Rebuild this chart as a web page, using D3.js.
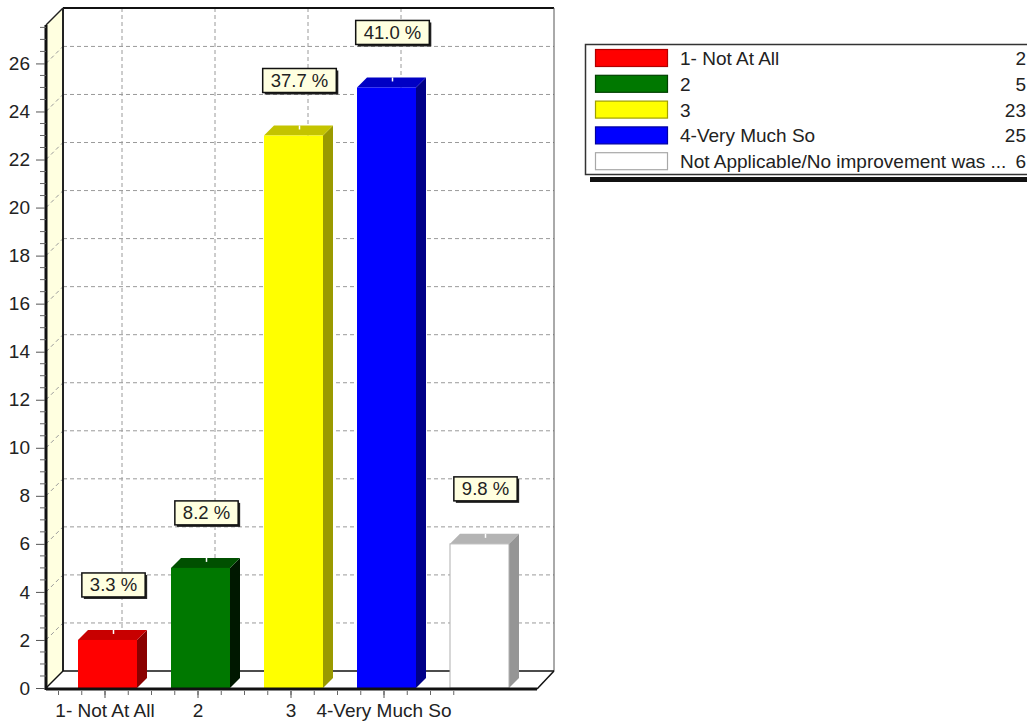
<!DOCTYPE html>
<html>
<head>
<meta charset="utf-8">
<script src="https://cdn.jsdelivr.net/npm/d3@7"></script>
<style>
  html, body { margin: 0; padding: 0; background: #fff; }
  svg { display: block; }
  text { font-family: "Liberation Sans", Arial, sans-serif; fill: #222; }
</style>
</head>
<body>
<svg id="chart" width="1027" height="724"></svg>
<script>
// Survey responses
const categories = ["1- Not At All", "2", "3", "4-Very Much So", "Not Applicable/No improvement was ..."];
const counts = [2, 5, 23, 25, 6];
// Category labels printed under the axis (the long last one is suppressed)
const axisLabels = ["1- Not At All", "2", "3", "4-Very Much So"];
const yTickValues = [0, 2, 4, 6, 8, 10, 12, 14, 16, 18, 20, 22, 24, 26];

const frontColors = ["#ff0000", "#007800", "#ffff00", "#0000ff", "#ffffff"];
const topColors   = ["#c80000", "#005000", "#c4c400", "#0000c4", "#b4b4b4"];
const sideColors  = ["#8a0000", "#001800", "#9a9a00", "#000088", "#959595"];
const edgeColors  = ["#b00000", "#004000", "#a0a000", "#0000a0", "#a8a8a8"];

const total = d3.sum(counts);
const svg = d3.select("#chart");
const FS = 19;

// Plot geometry
const D = 17;      // wall depth offset
const d = 10;      // bar depth offset
const y = d3.scaleLinear().domain([0, 27.6]).range([688, 25]);
const x = d3.scaleBand().domain(categories).range([58.5, 523.5]);
const bw = x.bandwidth();
const xLeft = 46, xRight = 537;
const y0 = y(0), yTop = y(27.6);
const center = c => x(c) + bw / 2;

// Left wall (cream) and floor
svg.append("polygon")
  .attr("points", [[xLeft, yTop], [xLeft + D, yTop - D], [xLeft + D, y0 - D], [xLeft, y0]].join(" "))
  .attr("fill", "#ffffe0");
svg.append("polygon")
  .attr("points", [[xLeft, y0], [xLeft + D, y0 - D], [xRight + D, y0 - D], [xRight, y0]].join(" "))
  .attr("fill", "#ffffff");

// Grid lines
const grid = svg.append("g").attr("stroke", "#9a9a9a").attr("stroke-width", 1)
  .attr("stroke-dasharray", "4,3").attr("fill", "none");
yTickValues.filter(v => v > 0).forEach(v => {
  grid.append("line").attr("x1", xLeft + D).attr("x2", xRight + D)
    .attr("y1", y(v) - D).attr("y2", y(v) - D);
  grid.append("line").attr("x1", xLeft).attr("x2", xLeft + D)
    .attr("y1", y(v)).attr("y2", y(v) - D);
});
axisLabels.forEach(c => {
  grid.append("line").attr("x1", center(c) + D).attr("x2", center(c) + D)
    .attr("y1", yTop - D).attr("y2", y0 - D);
});

// Frame lines
const frame = svg.append("g").attr("fill", "none");
frame.append("line").attr("x1", xLeft + D).attr("x2", xRight + D)
  .attr("y1", yTop - D).attr("y2", yTop - D).attr("stroke", "#111").attr("stroke-width", 2);
frame.append("line").attr("x1", xRight + D).attr("x2", xRight + D)
  .attr("y1", yTop - D).attr("y2", y0 - D).attr("stroke", "#555").attr("stroke-width", 1);
frame.append("line").attr("x1", xLeft).attr("x2", xLeft + D)
  .attr("y1", yTop).attr("y2", yTop - D).attr("stroke", "#222").attr("stroke-width", 1.5);
frame.append("line").attr("x1", xLeft + D).attr("x2", xLeft + D)
  .attr("y1", yTop - D).attr("y2", y0 - D).attr("stroke", "#222").attr("stroke-width", 2);
frame.append("line").attr("x1", xLeft + D).attr("x2", xRight + D)
  .attr("y1", y0 - D).attr("y2", y0 - D).attr("stroke", "#111").attr("stroke-width", 1.5);
frame.append("line").attr("x1", xLeft).attr("x2", xLeft + D)
  .attr("y1", y0).attr("y2", y0 - D).attr("stroke", "#111").attr("stroke-width", 1.5);
frame.append("line").attr("x1", xRight).attr("x2", xRight + D)
  .attr("y1", y0 + 1).attr("y2", y0 - D).attr("stroke", "#111").attr("stroke-width", 1.5);

// Bars (front, top, side faces)
const bars = svg.append("g");
categories.forEach((c, i) => {
  const v = counts[i];
  const x0 = center(c) - 27, w = 59, yt = y(v);
  const g = bars.append("g");
  g.append("polygon")
    .attr("points", [[x0 + w, yt], [x0 + w + d, yt - d], [x0 + w + d, y0 - d], [x0 + w, y0]].join(" "))
    .attr("fill", sideColors[i]);
  g.append("polygon")
    .attr("points", [[x0, yt], [x0 + d, yt - d], [x0 + w + d, yt - d], [x0 + w, yt]].join(" "))
    .attr("fill", topColors[i]);
  g.append("rect").attr("x", x0).attr("y", yt).attr("width", w).attr("height", y0 - yt)
    .attr("fill", frontColors[i])
    .attr("stroke", i === 4 ? "#b0b0b0" : "none").attr("stroke-width", 1);
  g.append("line")
    .attr("x1", x0 + w / 2 + d / 2 + 1).attr("x2", x0 + w / 2 + d / 2 + 1)
    .attr("y1", yt - d).attr("y2", yt - d + 4)
    .attr("stroke", "#fff").attr("stroke-width", 1.5);
});

// Axes: thick front edges
svg.append("line").attr("x1", xLeft).attr("x2", xLeft).attr("y1", yTop).attr("y2", y0 + 2)
  .attr("stroke", "#111").attr("stroke-width", 3);
svg.append("line").attr("x1", xLeft).attr("x2", xRight).attr("y1", y0 + 1).attr("y2", y0 + 1)
  .attr("stroke", "#111").attr("stroke-width", 3);

// Y axis ticks and labels
const yAxis = d3.axisLeft(y).tickValues(yTickValues).tickSize(9).tickPadding(6).tickFormat(d3.format("d"));
const yg = svg.append("g").attr("transform", `translate(${xLeft - 1},0)`).call(yAxis);
yg.select(".domain").remove();
yg.selectAll(".tick line").attr("stroke", "#555");
yg.selectAll(".tick text").attr("font-size", FS).attr("fill", "#222")
  .attr("font-family", "'Liberation Sans', Arial, sans-serif");
const minorY = d3.range(0, 27.6, 0.5).filter(v => v % 2 !== 0);
svg.append("g").selectAll("line").data(minorY).join("line")
  .attr("x1", xLeft - 6).attr("x2", xLeft).attr("y1", v => y(v)).attr("y2", v => y(v))
  .attr("stroke", "#666");

// X axis ticks and labels
const quarterTicks = d3.range(0, 18).map(k => x.range()[0] + k * bw / 4);
svg.append("g").selectAll("line").data(quarterTicks).join("line")
  .attr("x1", v => v).attr("x2", v => v).attr("y1", y0 + 3).attr("y2", y0 + 7)
  .attr("stroke", "#666");
svg.append("g").selectAll("line").data(axisLabels).join("line")
  .attr("x1", c => center(c)).attr("x2", c => center(c)).attr("y1", y0 + 3).attr("y2", y0 + 10)
  .attr("stroke", "#555");
svg.append("g").selectAll("text").data(axisLabels).join("text")
  .attr("x", c => center(c)).attr("y", 717).attr("text-anchor", "middle")
  .attr("font-size", FS).text(c => c);

// Percentage callouts
const callouts = svg.append("g");
categories.forEach((c, i) => {
  const v = counts[i];
  const label = (v / total * 100).toFixed(1) + " %";
  const cx = center(c) - 27 + 59 / 2 + d / 2 + 1;
  const yt = y(v);
  const g = callouts.append("g");
  const t = g.append("text").attr("font-size", 18.5).attr("text-anchor", "middle")
    .attr("x", cx).attr("y", yt - 67 + 18.5).text(label);
  const tw = t.node().getComputedTextLength();
  const bwid = tw + 16;
  g.insert("rect", "text").attr("x", cx - bwid / 2 + 2).attr("y", yt - 67 + 2)
    .attr("width", bwid).attr("height", 24).attr("fill", "#222");
  g.insert("rect", "text").attr("x", cx - bwid / 2).attr("y", yt - 67)
    .attr("width", bwid).attr("height", 24).attr("fill", "#ffffe0")
    .attr("stroke", "#111").attr("stroke-width", 1.5);
});

// Legend
const legend = svg.append("g");
legend.append("rect").attr("x", 590).attr("y", 177).attr("width", 450).attr("height", 5).attr("fill", "#111");
legend.append("rect").attr("x", 585.5).attr("y", 44.5).attr("width", 460).attr("height", 130)
  .attr("fill", "#fff").attr("stroke", "#333").attr("stroke-width", 1.5);
categories.forEach((c, i) => {
  const ry = 49 + i * 25.8;
  legend.append("rect").attr("x", 595.5).attr("y", ry + 0.5).attr("width", 72).attr("height", 17)
    .attr("fill", frontColors[i]).attr("stroke", edgeColors[i]).attr("stroke-width", 1.2);
  legend.append("text").attr("x", 680).attr("y", ry + 16).attr("font-size", FS).text(c);
  legend.append("text").attr("x", 1026).attr("y", ry + 16).attr("font-size", FS)
    .attr("text-anchor", "end").text(counts[i]);
});
</script>
</body>
</html>
